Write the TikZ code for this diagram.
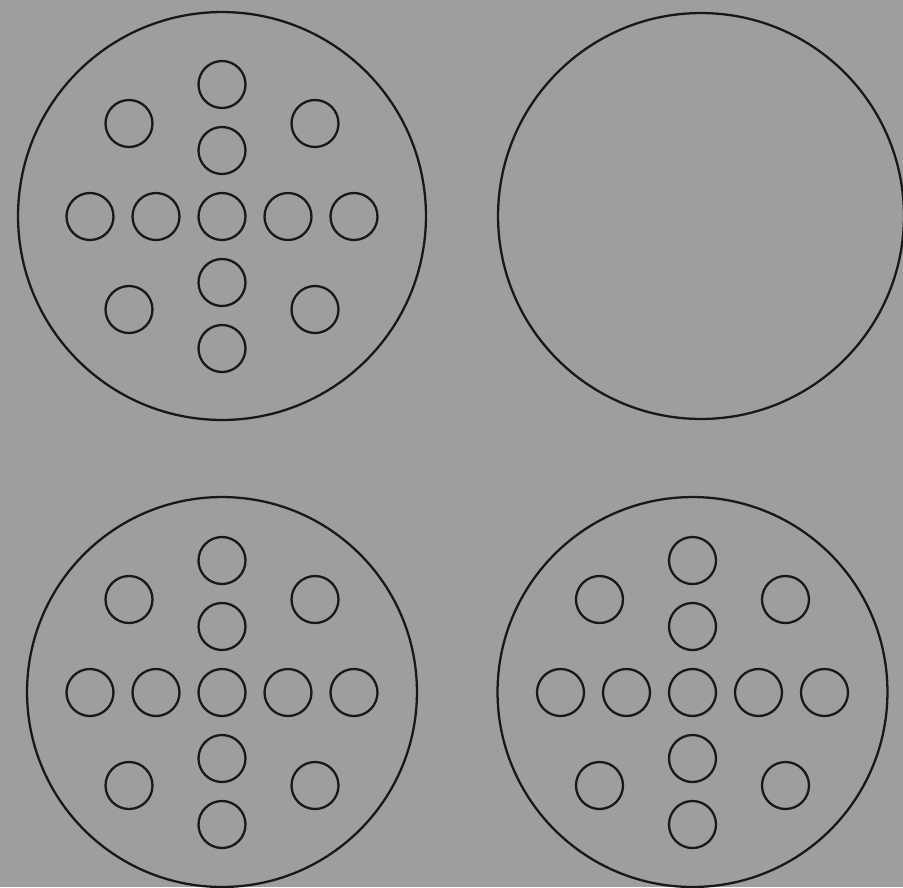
\documentclass[tikz,border=0pt]{standalone}
\definecolor{bgc}{RGB}{158,158,158}
\definecolor{ink}{RGB}{24,24,24}
\tikzset{
  plate/.style={circle, draw=ink, line width=1.3pt, inner sep=0pt},
  hole/.style={circle, draw=ink, line width=1.3pt, inner sep=0pt, minimum size=0.94cm},
}
\begin{document}
\begin{tikzpicture}[x=0.02cm, y=-0.02cm]
\fill[bgc] (0,0) rectangle (903,887);
\useasboundingbox (0,0) rectangle (903,887);
\node[plate, minimum size=8.16cm] (P1) at (222,216) {};
\node[plate, minimum size=8.12cm] (P2) at (701,216) {};
\node[plate, minimum size=7.8cm] (P3) at (222,692) {};
\node[plate, minimum size=7.8cm] (P4) at (692.5,692) {};
\foreach \p/\cx/\cy in {A/222/216.5, B/222/692.5, C/692.5/692.5}{
  \foreach \n/\dx/\dy in {c/0/0, n1/0/-66, n2/0/-132, s1/0/66, s2/0/132,
                          w1/-66/0, w2/-132/0, e1/66/0, e2/132/0,
                          nw/-93/-93, ne/93/-93, sw/-93/93, se/93/93}{
    \node[hole] (\p-\n) at (\cx+\dx,\cy+\dy) {};
  }
}
\end{tikzpicture}
\end{document}
